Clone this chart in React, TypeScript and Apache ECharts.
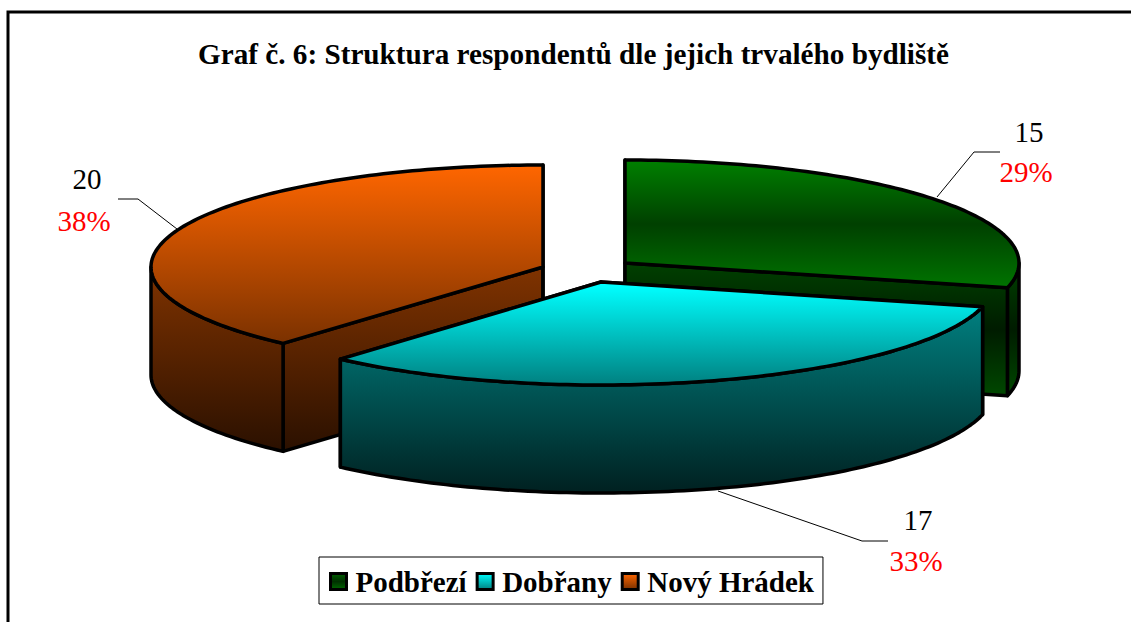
import React, { useEffect, useRef } from "react";
import * as echarts from "echarts";

const titleText = "Graf č. 6: Struktura respondentů dle jejich trvalého bydliště";
const categories = ["Podbřezí", "Dobřany", "Nový Hrádek"];
const values = [15, 17, 20];

const FONT = '"Liberation Serif", "Times New Roman", serif';
const total = values.reduce((a, b) => a + b, 0);

// layout of each exploded slice
const layouts = [
  { cx: 625, cy: 263, rx: 394, ry: 103, depth: 108, leader: [[937, 197], [974, 152], [1000, 152]], n: [1029, 132], p: [1026, 172] },
  { cx: 601, cy: 282, rx: 393, ry: 103, depth: 108, leader: [[718, 491], [862, 541], [888, 541]], n: [918, 520], p: [916, 561] },
  { cx: 543, cy: 267, rx: 392, ry: 102, depth: 108, leader: [[177, 229], [138, 199], [118, 199]], n: [87, 179], p: [84, 221] },
];

type Stop = [number, string];
const grad = (y0: number, y1: number, stops: Stop[]) =>
  new echarts.graphic.LinearGradient(0, y0, 0, y1, stops.map(([offset, color]) => ({ offset, color })), true);

const topStops: Stop[][] = [
  [[0, "#008000"], [0.5, "#004000"], [1, "#007400"]],
  [[0, "#00ffff"], [1, "#008080"]],
  [[0, "#ff6600"], [1, "#7a3100"]],
];
const sideStops: Stop[][] = [
  [[0, "#004000"], [0.5, "#001c00"], [1, "#004800"]],
  [[0, "#008080"], [1, "#002020"]],
  [[0, "#803300"], [1, "#2a1000"]],
];
const legendStops: Stop[][] = [
  [[0, "#006000"], [0.5, "#003000"], [1, "#006800"]],
  [[0, "#00ffff"], [1, "#008080"]],
  [[0, "#ff6600"], [1, "#7a3100"]],
];
// vertical extent of the gradients, relative to each slice's centre
const topSpan = [[-103, 25], [3, 103], [-102, 77]];
const sideSpan = [[0, 133], [25, 211], [0, 185]];

const line = { stroke: "#000", lineWidth: 3.5, lineJoin: "round" as const };

function sliceRenderer(idx: number) {
  return (_params: any, api: any) => {
    const value = api.value(0);
    const before = values.slice(0, idx).reduce((a, b) => a + b, 0);
    const a0 = (before / total) * Math.PI * 2;
    const a1 = a0 + (value / total) * Math.PI * 2;
    const L = layouts[idx];
    const pt = (a: number, dy = 0) => [L.cx + L.rx * Math.sin(a), L.cy - L.ry * Math.cos(a) + dy];
    const arc = (s: number, e: number, dy = 0) => {
      const n = Math.max(2, Math.ceil(Math.abs(e - s) / 0.02));
      const out: number[][] = [];
      for (let i = 0; i <= n; i++) out.push(pt(s + ((e - s) * i) / n, dy));
      return out;
    };
    const centre = [L.cx, L.cy];
    const sideFill = grad(L.cy + sideSpan[idx][0], L.cy + sideSpan[idx][1], sideStops[idx]);
    const topFill = grad(L.cy + topSpan[idx][0], L.cy + topSpan[idx][1], topStops[idx]);
    const wall = (p: number[]) => ({
      type: "polygon",
      shape: { points: [centre, p, [p[0], p[1] + L.depth], [centre[0], centre[1] + L.depth]] },
      style: { ...line, fill: sideFill },
    });
    const children: any[] = [wall(pt(a0)), wall(pt(a1))];
    // outer wall: only the part of the rim that faces the viewer
    const fs = Math.max(a0, Math.PI / 2);
    const fe = Math.min(a1, (Math.PI * 3) / 2);
    if (fe > fs) {
      children.push({
        type: "polygon",
        shape: { points: [...arc(fs, fe), ...arc(fe, fs, L.depth)] },
        style: { ...line, fill: sideFill },
      });
    }
    children.push({
      type: "polygon",
      shape: { points: [centre, ...arc(a0, a1)] },
      style: { ...line, fill: topFill },
    });
    children.push({
      type: "polyline",
      shape: { points: L.leader },
      style: { stroke: "#000", lineWidth: 1, fill: "none" },
    });
    children.push({
      type: "text",
      x: L.n[0],
      y: L.n[1],
      style: { text: String(value), font: `29px ${FONT}`, fill: "#000", align: "center", verticalAlign: "middle" },
    });
    children.push({
      type: "text",
      x: L.p[0],
      y: L.p[1],
      style: {
        text: `${Math.round((value / total) * 100)}%`,
        font: `29px ${FONT}`,
        fill: "#ff0000",
        align: "center",
        verticalAlign: "middle",
      },
    });
    return { type: "group", children };
  };
}

export default function App() {
  const ref = useRef<HTMLDivElement>(null);
  useEffect(() => {
    const chart = echarts.init(ref.current!, null, { renderer: "svg" });
    chart.setOption({
      animation: false,
      backgroundColor: "#fff",
      title: {
        text: titleText,
        left: 568.5,
        top: 34,
        textAlign: "center",
        textStyle: { fontFamily: FONT, fontWeight: "bold", fontSize: 29.2, color: "#000" },
      },
      legend: {
        left: 319,
        top: 557,
        orient: "horizontal",
        backgroundColor: "#fff",
        borderColor: "#000",
        borderWidth: 1,
        padding: [10, 9, 8, 10],
        itemGap: 9,
        itemWidth: 16,
        itemHeight: 16,
        textStyle: { fontFamily: FONT, fontWeight: "bold", fontSize: 29, color: "#000", padding: [0, 0, 0, 4] },
        data: categories.map((name, i) => ({
          name,
          icon: "rect",
          itemStyle: {
            color: new echarts.graphic.LinearGradient(0, 0, 0, 1, legendStops[i].map(([offset, color]) => ({ offset, color }))),
            borderColor: "#000",
            borderWidth: 3,
          },
        })),
      },
      graphic: [
        {
          type: "polyline",
          shape: { points: [[8, 640], [8, 12], [1140, 12]] },
          style: { stroke: "#000", lineWidth: 3, fill: "none" },
          silent: true,
        },
      ],
      series: categories.map((name, i) => ({
        type: "custom",
        name,
        coordinateSystem: "none",
        z: i === 1 ? 3 : 2,
        silent: true,
        renderItem: sliceRenderer(i),
        data: [[values[i]]],
      })),
    });
    return () => chart.dispose();
  }, []);
  return <div ref={ref} style={{ position: "absolute", left: 0, top: 0, width: 1131, height: 622 }} />;
}
